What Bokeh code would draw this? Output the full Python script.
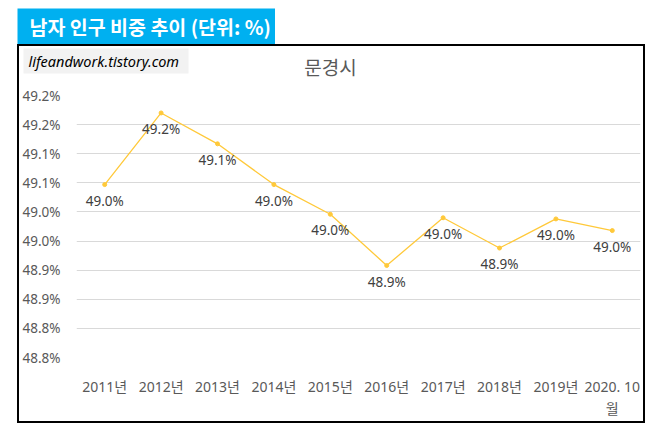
from bokeh.plotting import figure
from bokeh.models import (FactorRange, FixedTicker, CustomJSTickFormatter, ColumnDataSource,
                          LabelSet, Label, BoxAnnotation, Range1d)
from bokeh.layouts import column
from bokeh.core.properties import value
from bokeh.embed import file_html
from bokeh.resources import INLINE

years = ["2011년", "2012년", "2013년", "2014년", "2015년", "2016년", "2017년", "2018년", "2019년", "2020. 10\n월"]
male_share = [49.047, 49.170, 49.117, 49.047, 48.996, 48.908, 48.990, 48.938, 48.988, 48.968]
y_ticks = [48.75, 48.80, 48.85, 48.90, 48.95, 49.00, 49.05, 49.10, 49.15, 49.20]
header_text = "남자 인구 비중 추이 (단위: %)"
chart_title = "문경시"
watermark = "lifeandwork.tistory.com"

FONT = "'Noto Sans', 'Noto Sans CJK KR'"
KFONT = "'Noto Sans CJK KR'"

# ---- header band (blue box) ----
HW, HH = 258, 36
hdr = figure(width=HW, height=HH, x_range=Range1d(0, HW), y_range=Range1d(HH, 0),
             output_backend="svg", toolbar_location=None, x_axis_location=None, y_axis_location=None,
             min_border=0, margin=(8, 0, 0, 17))
hdr.grid.visible = False
hdr.outline_line_color = None
hdr.background_fill_color = "#00B0F0"
hdr.border_fill_color = "#00B0F0"
hdr.add_layout(Label(x=12, y=18, text=header_text, text_font=KFONT, text_font_style="bold",
                     text_font_size="19.5px", text_color="white", text_baseline="middle", text_align="left"))

# ---- title band inside the border ----
IW = 624
TH = 36
ttl = figure(width=IW, height=TH, x_range=Range1d(0, IW), y_range=Range1d(TH, 0),
             output_backend="svg", toolbar_location=None, x_axis_location=None, y_axis_location=None,
             min_border=0)
ttl.grid.visible = False
ttl.outline_line_color = None
ttl.add_layout(BoxAnnotation(left=4, right=169, top=2, bottom=27, fill_color="#F2F2F2", fill_alpha=1,
                             line_color=None))
ttl.add_layout(Label(x=9, y=14.5, text=watermark, text_font="'Noto Sans'", text_font_style="italic",
                     text_font_size="14.5px", text_color="#000000", text_baseline="middle", text_align="left"))
ttl.add_layout(Label(x=311, y=20, text=chart_title, text_font=KFONT, text_font_size="19px",
                     text_color="#595959", text_baseline="middle", text_align="center"))

# ---- main chart ----
MH = 339
p = figure(width=IW, height=MH, x_range=FactorRange(*years, range_padding=0),
           y_range=(48.75, 49.20), output_backend="svg", toolbar_location=None,
           min_border_left=57, min_border_right=3, min_border_top=13, min_border_bottom=60)
p.outline_line_color = None
p.background_fill_color = "white"
p.border_fill_color = "white"

p.yaxis.ticker = FixedTicker(ticks=y_ticks)
p.yaxis.formatter = CustomJSTickFormatter(code="return (Math.round(tick*1000)/1000 + 1e-9).toFixed(1) + '%';")
for ax in (p.xaxis[0], p.yaxis[0]):
    ax.axis_line_color = None
    ax.major_tick_line_color = None
    ax.minor_tick_line_color = None
    ax.major_tick_in = 0
    ax.major_tick_out = 0
    ax.minor_tick_out = 0
    ax.major_label_text_font = FONT
    ax.major_label_text_color = "#595959"
p.yaxis.major_label_text_font_size = "13.5px"
p.xaxis.major_label_text_font_size = "14px"
p.yaxis.major_label_standoff = 16
p.xaxis.major_label_standoff = 19
p.xgrid.grid_line_color = None
p.ygrid.grid_line_color = "#D9D9D9"
p.ygrid.grid_line_width = 1

src = ColumnDataSource(dict(x=years, y=male_share, lab=[f"{v:.1f}%" for v in male_share]))
p.line("x", "y", source=src, line_color="#FFC93A", line_width=1.3)
p.scatter("x", "y", source=src, size=4, fill_color="#FFC93A", line_color="#FFC93A")
p.add_layout(LabelSet(x="x", y="y", text="lab", source=src, y_offset=-7,
                      text_align="center", text_baseline="top",
                      text_font=value(FONT), text_font_size=value("13.5px"), text_color="#404040"))

box = column(column(ttl), p, margin=(0, 0, 0, 17),
             styles={"border": "2px solid black"})
layout = column(hdr, box)

open("out.html", "w").write(file_html(layout, INLINE))
